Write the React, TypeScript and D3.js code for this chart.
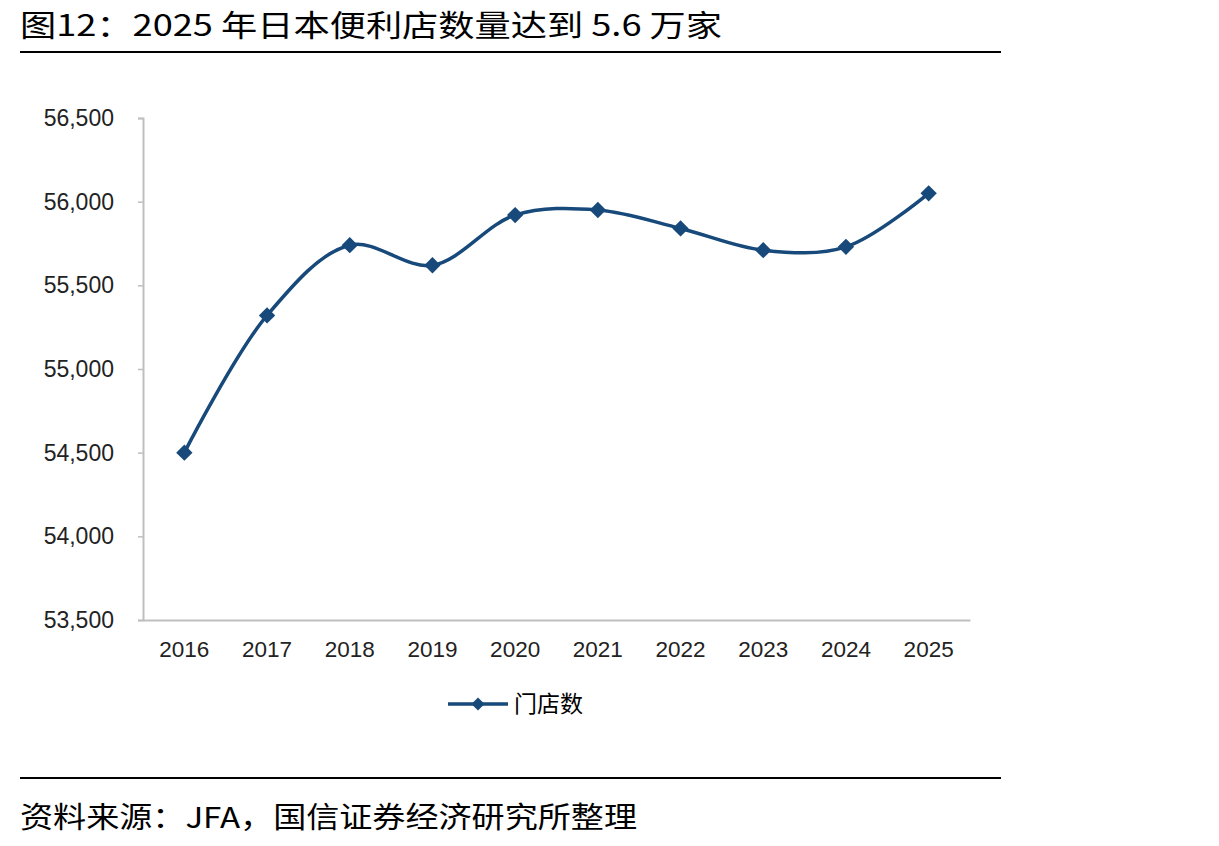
import React, { useRef, useEffect } from "react";
import * as d3 from "d3";

const years = ["2016", "2017", "2018", "2019", "2020", "2021", "2022", "2023", "2024", "2025"];
const stores = [54500, 55320, 55740, 55620, 55920, 55950, 55840, 55710, 55730, 56050];
const yTicks = [53500, 54000, 54500, 55000, 55500, 56000, 56500];

const title = "图12：2025 年日本便利店数量达到 5.6 万家";
const source = "资料来源：JFA，国信证券经济研究所整理";
const seriesName = "门店数";

const lineColor = "#17497a";
const axisColor = "#bfbfbf";
const cjkFont = "'Noto Sans CJK SC', sans-serif";
const numFont = "'Liberation Sans', Arial, sans-serif";

function App() {
    const svgRef = useRef<SVGSVGElement>(null);

    useEffect(() => {
        const svg = d3.select(svgRef.current);
        svg.selectAll("*").remove();

        const left = 143, right = 970, top = 118, bottom = 620;

        const x = d3.scaleBand().domain(years).range([left, right]);
        const y = d3.scaleLinear().domain([53500, 56500]).range([bottom, top]);

        // title + rules
        svg.append("text")
            .attr("x", 20).attr("y", 36)
            .attr("font-family", cjkFont).attr("font-size", 30)
            .attr("textLength", 702).attr("lengthAdjust", "spacingAndGlyphs")
            .attr("fill", "#000")
            .text(title);
        svg.append("line").attr("x1", 20).attr("x2", 1001).attr("y1", 52).attr("y2", 52)
            .attr("stroke", "#000").attr("stroke-width", 2);
        svg.append("line").attr("x1", 20).attr("x2", 1001).attr("y1", 778).attr("y2", 778)
            .attr("stroke", "#000").attr("stroke-width", 2);
        svg.append("text")
            .attr("x", 20).attr("y", 828)
            .attr("font-family", cjkFont).attr("font-size", 29)
            .attr("textLength", 617).attr("lengthAdjust", "spacingAndGlyphs")
            .attr("fill", "#000")
            .text(source);

        // y axis
        const yAxis = svg.append("g")
            .attr("transform", `translate(${left},0)`)
            .call(d3.axisLeft(y).tickValues(yTicks).tickSize(5).tickPadding(24).tickFormat(d3.format(",")));
        yAxis.select(".domain").attr("stroke", axisColor).attr("stroke-width", 2);
        yAxis.selectAll(".tick line").attr("stroke", axisColor).attr("stroke-width", 1.5);
        yAxis.selectAll("text")
            .attr("font-family", numFont).attr("font-size", 23).attr("fill", "#222");

        // x axis
        const xAxis = svg.append("g")
            .attr("transform", `translate(0,${bottom})`)
            .call(d3.axisBottom(x).tickSize(0).tickPadding(21).tickSizeOuter(0));
        xAxis.select(".domain").attr("stroke", axisColor).attr("stroke-width", 2);
        xAxis.selectAll("text")
            .attr("font-family", numFont).attr("font-size", 22.5).attr("fill", "#222");

        // smoothed line
        const cx = (i: number) => (x(years[i]) as number) + x.bandwidth() / 2;
        const line = d3.line<number>()
            .x((d, i) => cx(i))
            .y(d => y(d))
            .curve(d3.curveCatmullRom.alpha(0.5));
        svg.append("path")
            .datum(stores)
            .attr("d", line)
            .attr("fill", "none")
            .attr("stroke", lineColor)
            .attr("stroke-width", 3.5);

        const diamond = d3.symbol().type(d3.symbolDiamond2).size(170);
        svg.selectAll(".pt")
            .data(stores)
            .join("path")
            .attr("class", "pt")
            .attr("d", diamond)
            .attr("transform", (d, i) => `translate(${cx(i)},${y(d)})`)
            .attr("fill", lineColor);

        // legend
        const lg = svg.append("g").attr("transform", "translate(448,704)");
        lg.append("line").attr("x1", 0).attr("x2", 60).attr("y1", 0).attr("y2", 0)
            .attr("stroke", lineColor).attr("stroke-width", 3.5);
        lg.append("path").attr("d", d3.symbol().type(d3.symbolDiamond2).size(110))
            .attr("transform", "translate(30,0)").attr("fill", lineColor);
        lg.append("text")
            .attr("x", 66).attr("y", 8)
            .attr("font-family", cjkFont).attr("font-size", 23)
            .attr("fill", "#000")
            .text(seriesName);
    }, []);

    return (
        <svg ref={svgRef} width={1219} height={846}
            style={{ position: "absolute", left: 0, top: 0, background: "#fff" }} />
    );
}

export default App;
